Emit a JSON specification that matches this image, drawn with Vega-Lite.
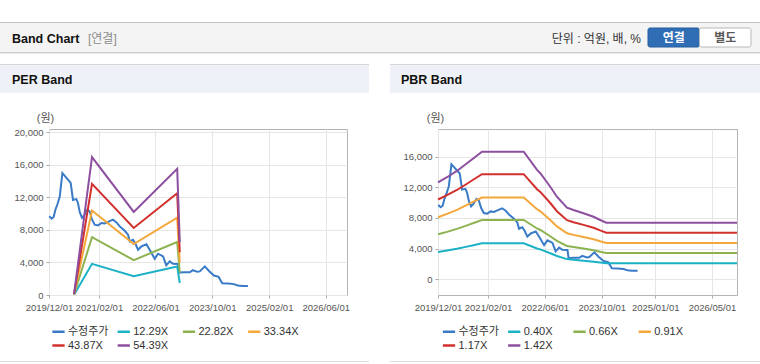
{
  "$schema": "https://vega.github.io/schema/vega-lite/v6.json",
  "background": "#ffffff",
  "padding": {"left": 0, "top": 22, "right": 0, "bottom": 0},
  "spacing": 0,
  "bounds": "flush",
  "resolve": {"scale": {"color": "independent", "x": "independent", "y": "independent"}},
  "config": {
    "view": {"stroke": null},
    "font": "Liberation Sans, Noto Sans CJK KR",
    "text": {"font": "Liberation Sans, Noto Sans CJK KR"},
    "axis": {"labelFont": "Liberation Sans, Noto Sans CJK KR", "titleFont": "Liberation Sans, Noto Sans CJK KR"},
    "legend": {"labelFont": "Liberation Sans, Noto Sans CJK KR"}
  },
  "datasets": {
    "price": [
      {"date":"2019-12-03","series":"수정주가","value":9700},
      {"date":"2019-12-24","series":"수정주가","value":9400},
      {"date":"2020-01-10","series":"수정주가","value":9600},
      {"date":"2020-01-25","series":"수정주가","value":10500},
      {"date":"2020-02-12","series":"수정주가","value":11200},
      {"date":"2020-03-02","series":"수정주가","value":12100},
      {"date":"2020-03-25","series":"수정주가","value":15000},
      {"date":"2020-04-18","series":"수정주가","value":14600},
      {"date":"2020-05-12","series":"수정주가","value":14200},
      {"date":"2020-06-04","series":"수정주가","value":13800},
      {"date":"2020-06-24","series":"수정주가","value":11700},
      {"date":"2020-07-23","series":"수정주가","value":11800},
      {"date":"2020-08-06","series":"수정주가","value":11300},
      {"date":"2020-08-21","series":"수정주가","value":10200},
      {"date":"2020-09-09","series":"수정주가","value":9500},
      {"date":"2020-10-02","series":"수정주가","value":9900},
      {"date":"2020-10-25","series":"수정주가","value":10500},
      {"date":"2020-11-14","series":"수정주가","value":10300},
      {"date":"2020-12-04","series":"수정주가","value":9300},
      {"date":"2020-12-27","series":"수정주가","value":8650},
      {"date":"2021-01-25","series":"수정주가","value":8570},
      {"date":"2021-02-23","series":"수정주가","value":8860},
      {"date":"2021-03-23","series":"수정주가","value":8800},
      {"date":"2021-04-21","series":"수정주가","value":9000},
      {"date":"2021-06-02","series":"수정주가","value":9270},
      {"date":"2021-07-02","series":"수정주가","value":8940},
      {"date":"2021-07-30","series":"수정주가","value":8440},
      {"date":"2021-09-11","series":"수정주가","value":7900},
      {"date":"2021-10-09","series":"수정주가","value":7420},
      {"date":"2021-10-24","series":"수정주가","value":6600},
      {"date":"2021-11-21","series":"수정주가","value":6800},
      {"date":"2021-12-12","series":"수정주가","value":6300},
      {"date":"2022-01-03","series":"수정주가","value":5575},
      {"date":"2022-02-01","series":"수정주가","value":5980},
      {"date":"2022-03-16","series":"수정주가","value":6250},
      {"date":"2022-04-13","series":"수정주가","value":5575},
      {"date":"2022-05-26","series":"수정주가","value":4450},
      {"date":"2022-06-24","series":"수정주가","value":5080},
      {"date":"2022-08-06","series":"수정주가","value":4750},
      {"date":"2022-09-02","series":"수정주가","value":3650},
      {"date":"2022-10-02","series":"수정주가","value":4140},
      {"date":"2022-10-30","series":"수정주가","value":3850},
      {"date":"2022-12-12","series":"수정주가","value":3830},
      {"date":"2022-12-22","series":"수정주가","value":2760},
      {"date":"2023-02-02","series":"수정주가","value":2800},
      {"date":"2023-03-23","series":"수정주가","value":2800},
      {"date":"2023-04-18","series":"수정주가","value":3050},
      {"date":"2023-05-27","series":"수정주가","value":2850},
      {"date":"2023-06-17","series":"수정주가","value":2900},
      {"date":"2023-07-30","series":"수정주가","value":3520},
      {"date":"2023-09-04","series":"수정주가","value":2950},
      {"date":"2023-10-16","series":"수정주가","value":2400},
      {"date":"2023-11-25","series":"수정주가","value":2230},
      {"date":"2023-12-27","series":"수정주가","value":1450},
      {"date":"2024-02-15","series":"수정주가","value":1420},
      {"date":"2024-04-04","series":"수정주가","value":1340},
      {"date":"2024-05-08","series":"수정주가","value":1180},
      {"date":"2024-06-15","series":"수정주가","value":1100},
      {"date":"2024-08-03","series":"수정주가","value":1100}
    ],
    "per": [
      {"date":"2020-07-03","series":"12.29X","value":31},
      {"date":"2020-12-04","series":"12.29X","value":3834},
      {"date":"2021-11-27","series":"12.29X","value":2311},
      {"date":"2022-12-05","series":"12.29X","value":3509},
      {"date":"2022-12-27","series":"12.29X","value":1475},
      {"date":"2020-07-03","series":"22.82X","value":57},
      {"date":"2020-12-04","series":"22.82X","value":7120},
      {"date":"2021-11-27","series":"22.82X","value":4290},
      {"date":"2022-12-05","series":"22.82X","value":6515},
      {"date":"2022-12-27","series":"22.82X","value":2738},
      {"date":"2020-07-03","series":"33.34X","value":83},
      {"date":"2020-12-04","series":"33.34X","value":10402},
      {"date":"2021-11-27","series":"33.34X","value":6268},
      {"date":"2022-12-05","series":"33.34X","value":9519},
      {"date":"2022-12-27","series":"33.34X","value":4001},
      {"date":"2020-07-03","series":"43.87X","value":110},
      {"date":"2020-12-04","series":"43.87X","value":13687},
      {"date":"2021-11-27","series":"43.87X","value":8248},
      {"date":"2022-12-05","series":"43.87X","value":12525},
      {"date":"2022-12-27","series":"43.87X","value":5264},
      {"date":"2020-07-03","series":"54.39X","value":136},
      {"date":"2020-12-04","series":"54.39X","value":16970},
      {"date":"2021-11-27","series":"54.39X","value":10225},
      {"date":"2022-12-05","series":"54.39X","value":15528},
      {"date":"2022-12-27","series":"54.39X","value":6527}
    ],
    "pbr": [
      {"date":"2019-12-01","series":"0.40X","value":3560},
      {"date":"2020-02-16","series":"0.40X","value":3752},
      {"date":"2020-05-11","series":"0.40X","value":3984},
      {"date":"2020-08-05","series":"0.40X","value":4264},
      {"date":"2020-09-30","series":"0.40X","value":4452},
      {"date":"2020-12-11","series":"0.40X","value":4692},
      {"date":"2021-12-03","series":"0.40X","value":4692},
      {"date":"2022-03-27","series":"0.40X","value":4020},
      {"date":"2022-04-24","series":"0.40X","value":3900},
      {"date":"2022-07-18","series":"0.40X","value":3404},
      {"date":"2022-09-13","series":"0.40X","value":3036},
      {"date":"2022-12-08","series":"0.40X","value":2636},
      {"date":"2023-02-02","series":"0.40X","value":2548},
      {"date":"2023-04-28","series":"0.40X","value":2428},
      {"date":"2023-07-23","series":"0.40X","value":2300},
      {"date":"2023-09-18","series":"0.40X","value":2180},
      {"date":"2023-11-09","series":"0.40X","value":2080},
      {"date":"2026-12-01","series":"0.40X","value":2080},
      {"date":"2019-12-01","series":"0.66X","value":5874},
      {"date":"2020-02-16","series":"0.66X","value":6191},
      {"date":"2020-05-11","series":"0.66X","value":6574},
      {"date":"2020-08-05","series":"0.66X","value":7036},
      {"date":"2020-09-30","series":"0.66X","value":7346},
      {"date":"2020-12-11","series":"0.66X","value":7742},
      {"date":"2021-12-03","series":"0.66X","value":7742},
      {"date":"2022-03-27","series":"0.66X","value":6633},
      {"date":"2022-04-24","series":"0.66X","value":6435},
      {"date":"2022-07-18","series":"0.66X","value":5617},
      {"date":"2022-09-13","series":"0.66X","value":5009},
      {"date":"2022-12-08","series":"0.66X","value":4349},
      {"date":"2023-02-02","series":"0.66X","value":4204},
      {"date":"2023-04-28","series":"0.66X","value":4006},
      {"date":"2023-07-23","series":"0.66X","value":3795},
      {"date":"2023-09-18","series":"0.66X","value":3597},
      {"date":"2023-11-09","series":"0.66X","value":3432},
      {"date":"2026-12-01","series":"0.66X","value":3432},
      {"date":"2019-12-01","series":"0.91X","value":8099},
      {"date":"2020-02-16","series":"0.91X","value":8536},
      {"date":"2020-05-11","series":"0.91X","value":9064},
      {"date":"2020-08-05","series":"0.91X","value":9701},
      {"date":"2020-09-30","series":"0.91X","value":10128},
      {"date":"2020-12-11","series":"0.91X","value":10674},
      {"date":"2021-12-03","series":"0.91X","value":10674},
      {"date":"2022-03-27","series":"0.91X","value":9146},
      {"date":"2022-04-24","series":"0.91X","value":8873},
      {"date":"2022-07-18","series":"0.91X","value":7744},
      {"date":"2022-09-13","series":"0.91X","value":6907},
      {"date":"2022-12-08","series":"0.91X","value":5997},
      {"date":"2023-02-02","series":"0.91X","value":5797},
      {"date":"2023-04-28","series":"0.91X","value":5524},
      {"date":"2023-07-23","series":"0.91X","value":5233},
      {"date":"2023-09-18","series":"0.91X","value":4960},
      {"date":"2023-11-09","series":"0.91X","value":4732},
      {"date":"2026-12-01","series":"0.91X","value":4732},
      {"date":"2019-12-01","series":"1.17X","value":10413},
      {"date":"2020-02-16","series":"1.17X","value":10975},
      {"date":"2020-05-11","series":"1.17X","value":11653},
      {"date":"2020-08-05","series":"1.17X","value":12472},
      {"date":"2020-09-30","series":"1.17X","value":13022},
      {"date":"2020-12-11","series":"1.17X","value":13724},
      {"date":"2021-12-03","series":"1.17X","value":13724},
      {"date":"2022-03-27","series":"1.17X","value":11759},
      {"date":"2022-04-24","series":"1.17X","value":11408},
      {"date":"2022-07-18","series":"1.17X","value":9957},
      {"date":"2022-09-13","series":"1.17X","value":8880},
      {"date":"2022-12-08","series":"1.17X","value":7710},
      {"date":"2023-02-02","series":"1.17X","value":7453},
      {"date":"2023-04-28","series":"1.17X","value":7102},
      {"date":"2023-07-23","series":"1.17X","value":6728},
      {"date":"2023-09-18","series":"1.17X","value":6377},
      {"date":"2023-11-09","series":"1.17X","value":6084},
      {"date":"2026-12-01","series":"1.17X","value":6084},
      {"date":"2019-12-01","series":"1.42X","value":12638},
      {"date":"2020-02-16","series":"1.42X","value":13320},
      {"date":"2020-05-11","series":"1.42X","value":14143},
      {"date":"2020-08-05","series":"1.42X","value":15137},
      {"date":"2020-09-30","series":"1.42X","value":15805},
      {"date":"2020-12-11","series":"1.42X","value":16657},
      {"date":"2021-12-03","series":"1.42X","value":16657},
      {"date":"2022-03-27","series":"1.42X","value":14271},
      {"date":"2022-04-24","series":"1.42X","value":13845},
      {"date":"2022-07-18","series":"1.42X","value":12084},
      {"date":"2022-09-13","series":"1.42X","value":10778},
      {"date":"2022-12-08","series":"1.42X","value":9358},
      {"date":"2023-02-02","series":"1.42X","value":9045},
      {"date":"2023-04-28","series":"1.42X","value":8619},
      {"date":"2023-07-23","series":"1.42X","value":8165},
      {"date":"2023-09-18","series":"1.42X","value":7739},
      {"date":"2023-11-09","series":"1.42X","value":7384},
      {"date":"2026-12-01","series":"1.42X","value":7384}
    ]
  },
  "vconcat": [
    {"width": 760, "height": 1, "view": {"fill": "#c4c4c4", "stroke": null}, "data": {"values": []}, "mark": "point", "encoding": {}},
    {
      "width": 760, "height": 29,
      "view": {"fill": "#f4f4f4", "stroke": null},
      "resolve": {"scale": {"x": "independent", "y": "independent", "color": "independent", "stroke": "independent"}},
      "layer": [
        {
          "data": {"values": [{"label": "Band Chart"}]},
          "mark": {"type": "text", "align": "left", "baseline": "middle", "fontSize": 12.5, "fontWeight": "bold", "color": "#111111", "dy": 1},
          "encoding": {
            "text": {"field": "label"},
            "x": {"field": "label", "type": "nominal", "scale": {"type": "point", "range": [12, 12]}, "axis": null}
          }
        },
        {
          "data": {"values": [{"label": "[연결]"}]},
          "mark": {"type": "text", "align": "left", "baseline": "middle", "fontSize": 12, "color": "#8c8c8c", "dy": 1},
          "encoding": {
            "text": {"field": "label"},
            "x": {"field": "label", "type": "nominal", "scale": {"type": "point", "range": [88, 88]}, "axis": null}
          }
        },
        {
          "data": {"values": [{"label": "단위 : 억원, 배, %"}]},
          "mark": {"type": "text", "align": "right", "baseline": "middle", "fontSize": 12, "color": "#333333", "dy": 1},
          "encoding": {
            "text": {"field": "label"},
            "x": {"field": "label", "type": "nominal", "scale": {"type": "point", "range": [641, 641]}, "axis": null}
          }
        },
        {
          "data": {"values": [{"label": "연결"}, {"label": "별도"}]},
          "mark": {"type": "bar", "cornerRadius": 2, "strokeWidth": 1},
          "encoding": {
            "x": {"field": "label", "type": "nominal", "sort": null, "scale": {"type": "band", "domain": ["연결", "별도"], "range": [648, 751], "paddingInner": 0, "paddingOuter": 0}, "axis": null},
            "y": {"datum": "button", "type": "nominal", "scale": {"type": "band", "paddingInner": 0, "paddingOuter": 0.263}, "axis": null},
            "color": {"field": "label", "type": "nominal", "scale": {"domain": ["연결", "별도"], "range": ["#2f6db4", "#ffffff"]}, "legend": null},
            "stroke": {"field": "label", "type": "nominal", "scale": {"domain": ["연결", "별도"], "range": ["#265f9f", "#b8b8b8"]}, "legend": null}
          }
        },
        {
          "data": {"values": [{"label": "연결"}]},
          "mark": {"type": "text", "baseline": "middle", "fontSize": 12, "fontWeight": "bold", "color": "#ffffff"},
          "encoding": {
            "text": {"field": "label"},
            "x": {"field": "label", "type": "nominal", "scale": {"type": "band", "domain": ["연결", "별도"], "range": [648, 751], "paddingInner": 0, "paddingOuter": 0}, "axis": null},
            "y": {"datum": "button", "type": "nominal", "scale": {"type": "band", "paddingInner": 0, "paddingOuter": 0.263}, "axis": null}
          }
        },
        {
          "data": {"values": [{"label": "별도"}]},
          "mark": {"type": "text", "baseline": "middle", "fontSize": 12, "fontWeight": "bold", "color": "#5a5a5a"},
          "encoding": {
            "text": {"field": "label"},
            "x": {"field": "label", "type": "nominal", "scale": {"type": "band", "domain": ["연결", "별도"], "range": [648, 751], "paddingInner": 0, "paddingOuter": 0}, "axis": null},
            "y": {"datum": "button", "type": "nominal", "scale": {"type": "band", "paddingInner": 0, "paddingOuter": 0.263}, "axis": null}
          }
        }
      ]
    },
    {"width": 760, "height": 1, "view": {"fill": "#d0d0d0", "stroke": null}, "data": {"values": []}, "mark": "point", "encoding": {}},
    {"width": 760, "height": 1, "view": {"fill": "#e9e9e9", "stroke": null}, "data": {"values": []}, "mark": "point", "encoding": {}},
    {"width": 760, "height": 10, "data": {"values": []}, "mark": "point", "encoding": {}},
    {
      "spacing": 0, "bounds": "flush",
      "hconcat": [
        {"width": 369, "height": 1, "view": {"fill": "#d6d6d6", "stroke": null}, "data": {"values": []}, "mark": "point", "encoding": {}},
        {"width": 21, "height": 1, "data": {"values": []}, "mark": "point", "encoding": {}},
        {"width": 370, "height": 1, "view": {"fill": "#d6d6d6", "stroke": null}, "data": {"values": []}, "mark": "point", "encoding": {}}
      ]
    },
    {"width": 760, "height": 1, "data": {"values": []}, "mark": "point", "encoding": {}},
    {
      "spacing": 0, "bounds": "flush",
      "resolve": {"scale": {"x": "independent", "y": "independent"}},
      "hconcat": [
        {
          "width": 369, "height": 28,
          "view": {"fill": "#eef1f7", "stroke": null},
          "data": {"values": [{"label": "PER Band"}]},
          "mark": {"type": "text", "align": "left", "baseline": "middle", "fontSize": 12.5, "fontWeight": "bold", "color": "#111111", "dy": 1},
          "encoding": {
            "text": {"field": "label"},
            "x": {"field": "label", "type": "nominal", "scale": {"type": "point", "range": [12, 12]}, "axis": null}
          }
        },
        {"width": 21, "height": 28, "data": {"values": []}, "mark": "point", "encoding": {}},
        {
          "width": 370, "height": 28,
          "view": {"fill": "#eef1f7", "stroke": null},
          "data": {"values": [{"label": "PBR Band"}]},
          "mark": {"type": "text", "align": "left", "baseline": "middle", "fontSize": 12.5, "fontWeight": "bold", "color": "#111111", "dy": 1},
          "encoding": {
            "text": {"field": "label"},
            "x": {"field": "label", "type": "nominal", "scale": {"type": "point", "range": [11, 11]}, "axis": null}
          }
        }
      ]
    },
    {"width": 760, "height": 64, "data": {"values": []}, "mark": "point", "encoding": {}},
    {
      "spacing": 0, "bounds": "flush",
      "resolve": {"scale": {"color": "independent", "x": "independent", "y": "independent"}},
      "hconcat": [
        {"width": 49, "height": 166, "data": {"values": []}, "mark": "point", "encoding": {}},
        {
          "width": 298, "height": 166,
          "view": {"stroke": "#b4b4b4", "fill": "#ffffff"},
          "encoding": {
            "x": {
              "field": "date", "type": "temporal",
              "scale": {"domain": [{"year": 2019, "month": 12, "date": 1}, {"year": 2026, "month": 12, "date": 1}]},
              "axis": {
                "title": null, "format": "%Y/%m/%d",
                "values": [{"year": 2019, "month": 12, "date": 1}, {"year": 2021, "month": 2, "date": 1}, {"year": 2022, "month": 6, "date": 1}, {"year": 2023, "month": 10, "date": 1}, {"year": 2025, "month": 2, "date": 1}, {"year": 2026, "month": 6, "date": 1}],
                "labelFontSize": 9.5, "labelColor": "#555555", "labelFlush": false, "labelOverlap": false, "labelPadding": 4,
                "tickSize": 3, "tickColor": "#aaaaaa", "domain": false, "grid": true, "gridColor": "#e6e6e6"
              }
            },
            "y": {
              "field": "value", "type": "quantitative",
              "scale": {"domain": [0, 20430], "nice": false, "zero": false},
              "axis": {
                "title": "(원)", "titleAngle": 0, "titleX": -4, "titleY": -11, "titleAlign": "center", "titleBaseline": "middle",
                "titleFontSize": 11, "titleFontWeight": "normal", "titleColor": "#555555",
                "values": [0, 4000, 8000, 12000, 16000, 20000], "format": ",d",
                "labelFontSize": 9.5, "labelColor": "#555555", "labelPadding": 3,
                "tickSize": 3, "tickColor": "#aaaaaa", "domain": false, "grid": true, "gridColor": "#e6e6e6"
              }
            },
            "color": {
              "field": "series", "type": "nominal",
              "scale": {"domain": ["수정주가", "12.29X", "22.82X", "33.34X", "43.87X", "54.39X"], "range": ["#3a7bc8", "#1bb1c6", "#8db350", "#f4a73a", "#d2302c", "#8d4f9f"]},
              "legend": {
                "title": null, "orient": "none", "legendX": 2, "legendY": 195, "direction": "horizontal", "columns": 4,
                "gridAlign": "all", "columnPadding": 3.25, "rowPadding": 1, "padding": 0,
                "symbolType": "stroke", "symbolSize": 150, "symbolStrokeWidth": 2.5,
                "labelFontSize": 11, "labelColor": "#333333", "labelOffset": 2
              }
            }
          },
          "layer": [
            {"data": {"name": "price"}, "mark": {"type": "line", "strokeWidth": 2}},
            {"data": {"name": "per"}, "mark": {"type": "line", "strokeWidth": 2}}
          ]
        },
        {"width": 91, "height": 166, "data": {"values": []}, "mark": "point", "encoding": {}},
        {
          "width": 299, "height": 166,
          "view": {"stroke": "#b4b4b4", "fill": "#ffffff"},
          "encoding": {
            "x": {
              "field": "date", "type": "temporal",
              "scale": {"domain": [{"year": 2019, "month": 12, "date": 1}, {"year": 2026, "month": 12, "date": 1}]},
              "axis": {
                "title": null, "format": "%Y/%m/%d",
                "values": [{"year": 2019, "month": 12, "date": 1}, {"year": 2021, "month": 2, "date": 1}, {"year": 2022, "month": 6, "date": 1}, {"year": 2023, "month": 10, "date": 1}, {"year": 2025, "month": 1, "date": 1}, {"year": 2026, "month": 5, "date": 1}],
                "labelFontSize": 9.5, "labelColor": "#555555", "labelFlush": false, "labelOverlap": false, "labelPadding": 4,
                "tickSize": 3, "tickColor": "#aaaaaa", "domain": false, "grid": true, "gridColor": "#e6e6e6"
              }
            },
            "y": {
              "field": "value", "type": "quantitative",
              "scale": {"domain": [-2050, 19615], "nice": false, "zero": false},
              "axis": {
                "title": "(원)", "titleAngle": 0, "titleX": -3, "titleY": -11, "titleAlign": "center", "titleBaseline": "middle",
                "titleFontSize": 11, "titleFontWeight": "normal", "titleColor": "#555555",
                "values": [0, 4000, 8000, 12000, 16000], "format": ",d",
                "labelFontSize": 9.5, "labelColor": "#555555", "labelPadding": 3,
                "tickSize": 3, "tickColor": "#aaaaaa", "domain": false, "grid": true, "gridColor": "#e6e6e6"
              }
            },
            "color": {
              "field": "series", "type": "nominal",
              "scale": {"domain": ["수정주가", "0.40X", "0.66X", "0.91X", "1.17X", "1.42X"], "range": ["#3a7bc8", "#1bb1c6", "#8db350", "#f4a73a", "#d2302c", "#8d4f9f"]},
              "legend": {
                "title": null, "orient": "none", "legendX": 3.5, "legendY": 195, "direction": "horizontal", "columns": 4,
                "gridAlign": "all", "columnPadding": 3.25, "rowPadding": 1, "padding": 0,
                "symbolType": "stroke", "symbolSize": 150, "symbolStrokeWidth": 2.5,
                "labelFontSize": 11, "labelColor": "#333333", "labelOffset": 2
              }
            }
          },
          "layer": [
            {"data": {"name": "price"}, "mark": {"type": "line", "strokeWidth": 2}},
            {"data": {"name": "pbr"}, "mark": {"type": "line", "strokeWidth": 2}}
          ]
        }
      ]
    },
    {"width": 760, "height": 232, "data": {"values": []}, "mark": "point", "encoding": {}},
    {
      "spacing": 0, "bounds": "flush",
      "hconcat": [
        {"width": 369, "height": 1, "view": {"fill": "#dcdcdc", "stroke": null}, "data": {"values": []}, "mark": "point", "encoding": {}},
        {"width": 21, "height": 1, "data": {"values": []}, "mark": "point", "encoding": {}},
        {"width": 370, "height": 1, "view": {"fill": "#dcdcdc", "stroke": null}, "data": {"values": []}, "mark": "point", "encoding": {}}
      ]
    }
  ]
}
